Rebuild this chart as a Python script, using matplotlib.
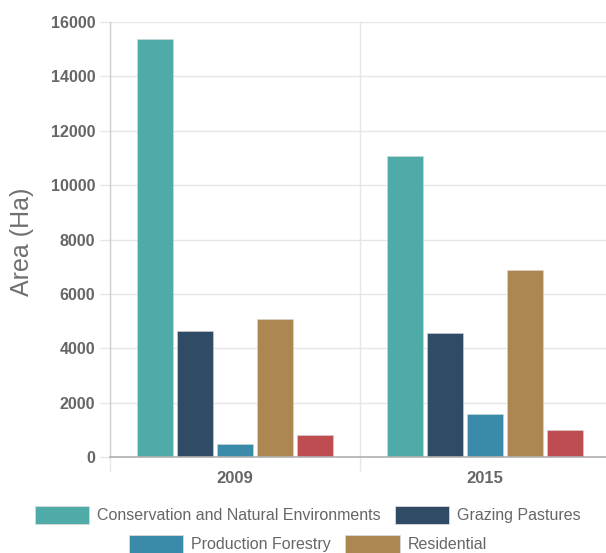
import matplotlib
matplotlib.use("Agg")
import matplotlib.pyplot as plt
from matplotlib.patches import Patch
import numpy as np

plt.rcParams['font.family'] = ['Liberation Sans', 'DejaVu Sans']

years = ["2009", "2015"]
series_names = ["Conservation and Natural Environments", "Grazing Pastures",
                "Production Forestry", "Residential", "Other"]
conservation = [15370, 11080]
grazing = [4640, 4550]
forestry = [480, 1600]
residential = [5080, 6870]
other = [810, 1000]
colors = ["#4EABA8", "#2F4B65", "#3A8BAA", "#AD8751", "#BE4D52"]
yticks = [0, 2000, 4000, 6000, 8000, 10000, 12000, 14000, 16000]

values = [conservation, grazing, forestry, residential, other]

W, H = 606, 553
fig = plt.figure(figsize=(W / 100, H / 100), dpi=100)
ax = fig.add_axes([110 / W, (H - 457) / H, 500 / W, 435 / H])

x = np.arange(len(years))
slot = 0.8 / len(values)
for i, (vals, c) in enumerate(zip(values, colors)):
    ax.bar(x - 0.4 + slot * (i + 0.5), vals, width=slot * 0.9, color=c,
           edgecolor=(0.85, 0.85, 0.85, 0.6), linewidth=0.6, zorder=3)

ax.set_xlim(-0.5, 1.5)
ax.set_ylim(0, 16000)
ax.set_yticks(yticks)
ax.set_yticklabels([str(v) for v in yticks])
ax.set_xticks(x)
ax.set_xticklabels(years)
ax.set_xticks([-0.5, 0.5, 1.5], minor=True)

grid_c = "#e6e6e6"
ax.grid(axis='y', which='major', color=grid_c, linewidth=1.0, zorder=0)
ax.grid(axis='x', which='minor', color=grid_c, linewidth=1.0, zorder=0)
ax.tick_params(axis='y', which='major', length=7.2, color=grid_c, width=1,
               pad=3.5, labelsize=11.5, labelcolor="#666666")
ax.tick_params(axis='x', which='major', length=0, pad=10,
               labelsize=12, labelcolor="#666666")
ax.tick_params(axis='x', which='minor', length=10, color=grid_c, width=1)
for lab in ax.get_yticklabels() + ax.get_xticklabels():
    lab.set_fontweight('bold')

for s in ['top', 'right']:
    ax.spines[s].set_visible(False)
ax.spines['left'].set_color("#d0d0d0")
ax.spines['left'].set_linewidth(1.0)
ax.spines['bottom'].set_color("#b0b0b0")
ax.spines['bottom'].set_linewidth(1.2)
ax.spines['bottom'].set_zorder(4)

fig.text(22 / W, 1 - 242 / H, "Area (Ha)", rotation=90, ha='center',
         va='center', fontsize=18, color="#707070")

def make_handles(idx):
    return [Patch(facecolor=colors[i], edgecolor=(0.85, 0.85, 0.85),
                  linewidth=0.6, label=series_names[i]) for i in idx]

common = dict(frameon=False, fontsize=11.5, handlelength=3.4,
              handleheight=1.4, handletextpad=0.5, columnspacing=0.9,
              labelcolor="#666666", borderpad=0, borderaxespad=0)
leg1 = fig.legend(handles=make_handles([0, 1]), ncol=2, loc='center',
                  bbox_to_anchor=(308 / W, 1 - 515 / H), **common)
leg2 = fig.legend(handles=make_handles([2, 3]), ncol=2, loc='center',
                  bbox_to_anchor=(308 / W, 1 - 544 / H), **common)

fig.savefig("out.png", dpi=100)
